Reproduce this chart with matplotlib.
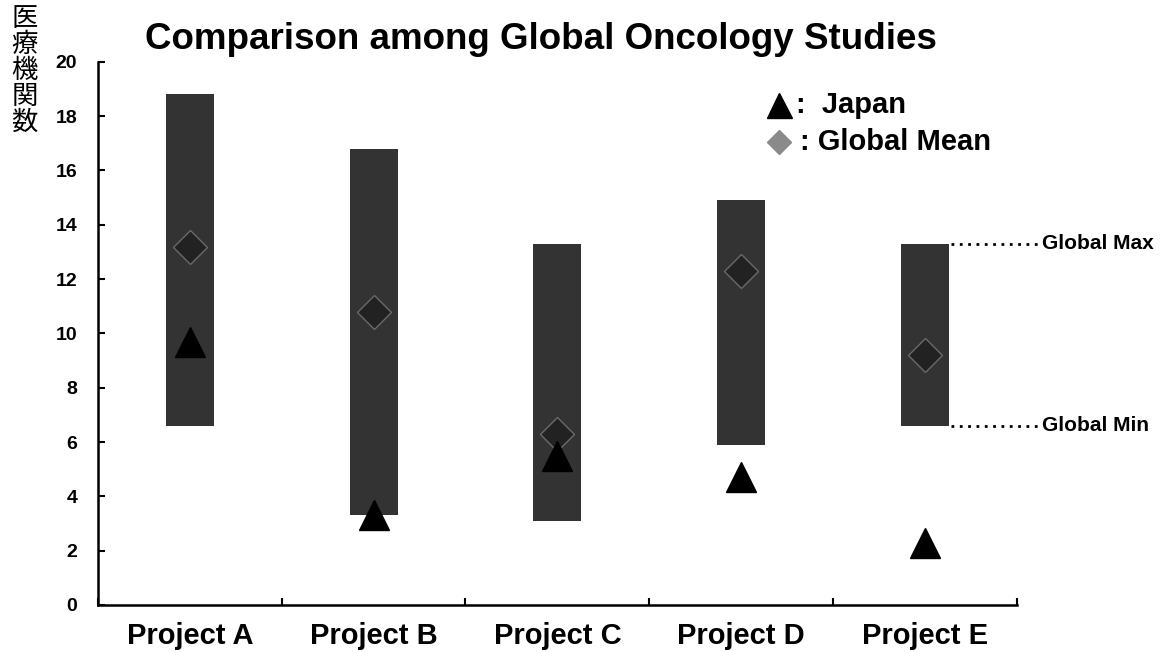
import matplotlib.pyplot as plt
import numpy as np

# data
projects = ['Project A', 'Project B', 'Project C', 'Project D', 'Project E']
global_min = [6.6, 3.3, 3.1, 5.9, 6.6]
global_max = [18.8, 16.8, 13.3, 14.9, 13.3]
global_mean = [13.2, 10.8, 6.3, 12.3, 9.2]
japan = [9.7, 3.3, 5.5, 4.7, 2.3]
y_ticks = [0, 2, 4, 6, 8, 10, 12, 14, 16, 18, 20]

plt.rcParams['font.family'] = ['Liberation Sans', 'DejaVu Sans']

fig = plt.figure(figsize=(11.69, 6.52), dpi=100)
ax = fig.add_axes([0.0838, 0.0721, 0.786, 0.833])

x = np.arange(len(projects))
heights = np.array(global_max) - np.array(global_min)
ax.bar(x, heights, bottom=global_min, width=0.26, color='#333333', zorder=2)

ax.plot(x, global_mean, linestyle='none', marker='D', markersize=17,
        markerfacecolor='#222222', markeredgecolor='#6a6a6a', markeredgewidth=1, zorder=3)
ax.plot(x, japan, linestyle='none', marker='^', markersize=22,
        color='black', zorder=4)

ax.set_xlim(-0.5, 4.5)
ax.set_ylim(0, 20)
ax.set_yticks(y_ticks)
ax.set_yticklabels([str(t) for t in y_ticks], fontsize=14, fontweight='bold')
ax.set_xticks(x)
ax.set_xticklabels(projects, fontsize=21, fontweight='bold')
ax.set_xticks(np.arange(-0.5, 5, 1), minor=True)
ax.tick_params(axis='x', which='major', length=0, pad=12)
ax.tick_params(axis='x', which='minor', direction='in', length=5, width=1.5)
ax.tick_params(axis='y', direction='in', length=5, width=1.5, pad=15)

for s in ['top', 'right']:
    ax.spines[s].set_visible(False)
for s in ['left', 'bottom']:
    ax.spines[s].set_linewidth(1.8)

# Global Max / Min callouts on the last bar
e = len(projects) - 1
for val, txt in [(global_max[e], 'Global Max'), (global_min[e], 'Global Min')]:
    ax.plot([e + 0.14, e + 0.62], [val, val], linestyle=(0, (1, 2)),
            linewidth=2, color='black', clip_on=False)
    ax.text(e + 0.635, val, txt, fontsize=15, fontweight='bold',
            va='center', ha='left', clip_on=False)

# legend drawn by hand
ax.plot([0.741], [0.921], transform=ax.transAxes, marker='^', markersize=18,
        color='black', clip_on=False)
ax.text(0.760, 0.921, ':  Japan', transform=ax.transAxes, fontsize=21,
        fontweight='bold', va='center', ha='left')
ax.plot([0.741], [0.853], transform=ax.transAxes, marker='D', markersize=12,
        color='#8a8a8a', clip_on=False)
ax.text(0.764, 0.853, ': Global Mean', transform=ax.transAxes, fontsize=21,
        fontweight='bold', va='center', ha='left')

fig.text(0.463, 0.939, 'Comparison among Global Oncology Studies',
         fontsize=26.5, fontweight='bold', ha='center', va='center')

# vertical japanese y label
ylabel = '医療機関数'
for i, ch in enumerate(ylabel):
    fig.text(0.021, 1 - (19 + 25.8 * i) / 652, ch, fontsize=19,
             family=['Noto Sans CJK JP'], ha='center', va='center')

plt.savefig('out.png', dpi=100)
